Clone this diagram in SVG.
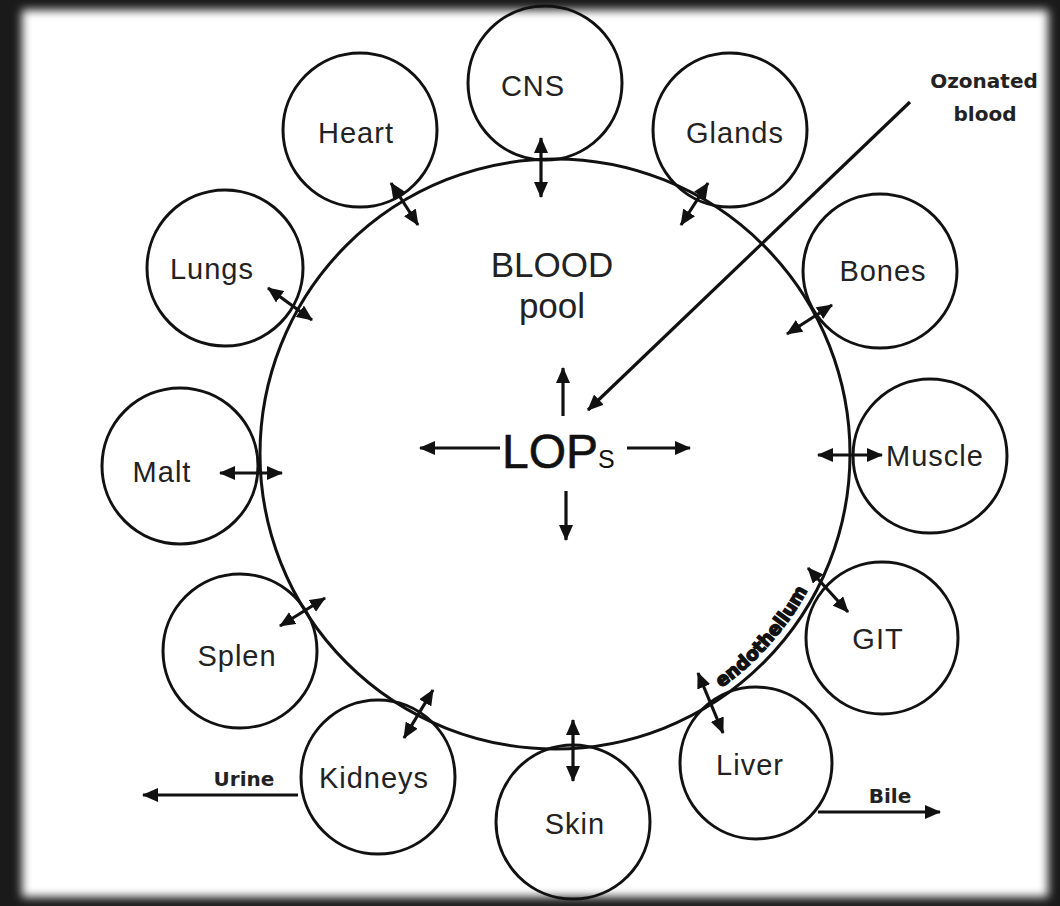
<svg xmlns="http://www.w3.org/2000/svg" width="1060" height="906" viewBox="0 0 1060 906">
<defs>
<filter id="soft" x="-5%" y="-5%" width="110%" height="110%"><feGaussianBlur stdDeviation="5"/></filter>
<marker id="ah" viewBox="0 0 16 14" refX="15" refY="7" markerWidth="16" markerHeight="14" markerUnits="userSpaceOnUse" orient="auto-start-reverse"><path d="M0,0 L16,7 L0,14 z" fill="#111"/></marker>
<path id="endoArc" d="M719.6,689.1 A286,286 0 0 0 817.2,570.7"/>
</defs>
<style>
.ring{fill:none;stroke:#111;stroke-width:3}
.lbl{font-family:"Liberation Sans",Arial,sans-serif;font-size:29px;letter-spacing:1px;fill:#222;text-anchor:middle}
.small{font-family:"DejaVu Sans",Verdana,sans-serif;font-size:20px;font-weight:bold;fill:#222;text-anchor:middle}
.dbl{stroke:#111;stroke-width:3.2;fill:none;marker-start:url(#ah);marker-end:url(#ah)}
.one{stroke:#111;stroke-width:3.2;fill:none;marker-end:url(#ah)}
</style>
<rect x="0" y="0" width="1060" height="906" fill="#1a1a1a"/>
<rect x="22" y="10" width="1026" height="887" fill="#ffffff" filter="url(#soft)"/>

<g id="blood-pool">
<circle class="ring" cx="555" cy="454" r="295"/>
<text class="lbl" x="552" y="277" style="font-size:35px;letter-spacing:0">BLOOD</text>
<text class="lbl" x="552" y="318" style="font-size:35px;letter-spacing:0">pool</text>
</g>
<g id="lops">
<text x="502" y="468" font-family="Liberation Sans, Arial, sans-serif" fill="#111" stroke="#111" stroke-width="0.6"><tspan font-size="48">LOP</tspan><tspan font-size="25" stroke-width="0">S</tspan></text>
</g>
<g id="endothelium">
<text font-family="DejaVu Sans, Verdana, sans-serif" font-size="18.5" font-weight="900" fill="#111" stroke="#111" stroke-width="1.4"><textPath href="#endoArc" startOffset="2">endothelium</textPath></text>
</g>
<g id="cns"><circle class="ring" cx="545" cy="83" r="77"/><text class="lbl" x="533" y="96">CNS</text></g>
<g id="heart"><circle class="ring" cx="360" cy="130" r="77"/><text class="lbl" x="356" y="143">Heart</text></g>
<g id="glands"><circle class="ring" cx="730" cy="130" r="77"/><text class="lbl" x="735" y="143">Glands</text></g>
<g id="lungs"><circle class="ring" cx="225" cy="268" r="78"/><text class="lbl" x="212" y="279">Lungs</text></g>
<g id="bones"><circle class="ring" cx="880" cy="271" r="77"/><text class="lbl" x="883" y="281">Bones</text></g>
<g id="malt"><circle class="ring" cx="180" cy="466" r="78"/><text class="lbl" x="162" y="482">Malt</text></g>
<g id="muscle"><circle class="ring" cx="930" cy="456" r="77"/><text class="lbl" x="935" y="466">Muscle</text></g>
<g id="git"><circle class="ring" cx="882" cy="638" r="76"/><text class="lbl" x="878" y="649">GIT</text></g>
<g id="splen"><circle class="ring" cx="240" cy="651" r="77"/><text class="lbl" x="237" y="666">Splen</text></g>
<g id="kidneys"><circle class="ring" cx="378" cy="777" r="77"/><text class="lbl" x="374" y="788">Kidneys</text></g>
<g id="skin"><circle class="ring" cx="573" cy="822" r="77"/><text class="lbl" x="575" y="834">Skin</text></g>
<g id="liver"><circle class="ring" cx="756" cy="763" r="76"/><text class="lbl" x="750" y="775">Liver</text></g>
<g id="ozonated"><text class="small" x="984" y="88">Ozonated</text><text class="small" x="985" y="121">blood</text></g>
<g id="urine-label"><text class="small" x="244" y="786">Urine</text></g>
<g id="bile-label"><text class="small" x="890" y="803">Bile</text></g>

<g id="connectors">
<line class="dbl" x1="541" y1="138" x2="541" y2="197"/>
<line class="dbl" x1="391" y1="183" x2="418" y2="225"/>
<line class="dbl" x1="708" y1="183" x2="681" y2="225"/>
<line class="dbl" x1="268" y1="288" x2="312" y2="320"/>
<line class="dbl" x1="832" y1="305" x2="787" y2="334"/>
<line class="dbl" x1="220" y1="473" x2="282" y2="473"/>
<line class="dbl" x1="818" y1="455" x2="882" y2="455"/>
<line class="dbl" x1="808" y1="568" x2="848" y2="612"/>
<line class="dbl" x1="698" y1="673" x2="723" y2="733"/>
<line class="dbl" x1="573" y1="720" x2="573" y2="781"/>
<line class="dbl" x1="433" y1="690" x2="404" y2="738"/>
<line class="dbl" x1="325" y1="598" x2="280" y2="626"/>
<line class="one" x1="500" y1="448" x2="420" y2="448"/>
<line class="one" x1="627" y1="448" x2="690" y2="448"/>
<line class="one" x1="563" y1="416" x2="563" y2="368"/>
<line class="one" x1="566" y1="491" x2="566" y2="540"/>
<line class="one" x1="910" y1="102" x2="588" y2="410"/>
<line class="one" x1="298" y1="795" x2="143" y2="795"/>
<line class="one" x1="818" y1="812" x2="940" y2="812"/>
</g>
</svg>
